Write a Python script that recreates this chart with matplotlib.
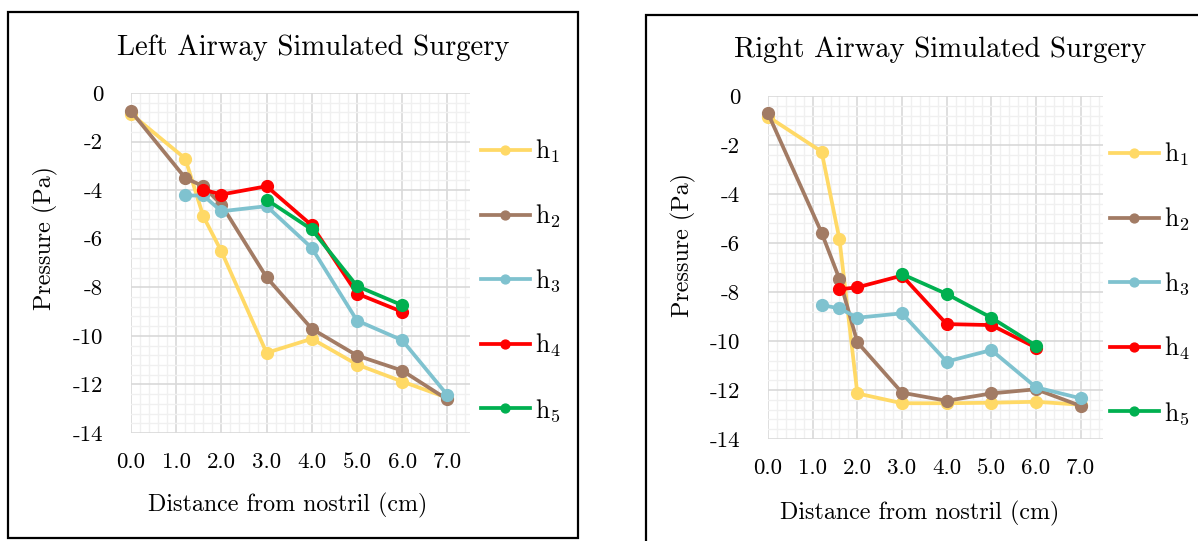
import numpy as np
import matplotlib
matplotlib.use("Agg")
import matplotlib.pyplot as plt
from matplotlib.patches import Rectangle

plt.rcParams['font.family'] = ['cmr10', 'DejaVu Serif']
plt.rcParams['mathtext.fontset'] = 'cm'
plt.rcParams['axes.unicode_minus'] = False

# distances (cm)
x_full = [0.0, 1.2, 1.6, 2.0, 3.0, 4.0, 5.0, 6.0, 7.0]
x_h3 = [1.2, 1.6, 2.0, 3.0, 4.0, 5.0, 6.0, 7.0]
x_h4 = [1.6, 2.0, 3.0, 4.0, 5.0, 6.0]
x_h5 = [3.0, 4.0, 5.0, 6.0]

# left airway pressures (Pa)
left_h1 = [-0.86, -2.7, -5.08, -6.52, -10.7, -10.12, -11.18, -11.88, -12.55]
left_h2 = [-0.75, -3.5, -3.84, -4.6, -7.59, -9.71, -10.81, -11.43, -12.62]
left_h3 = [-4.22, -4.22, -4.87, -4.66, -6.38, -9.37, -10.18, -12.44]
left_h4 = [-3.98, -4.18, -3.84, -5.45, -8.26, -9.01]
left_h5 = [-4.39, -5.62, -7.95, -8.74]

# right airway pressures (Pa)
right_h1 = [-0.84, -2.27, -5.85, -12.14, -12.54, -12.54, -12.52, -12.48, -12.6]
right_h2 = [-0.71, -5.58, -7.47, -10.05, -12.11, -12.44, -12.14, -11.97, -12.65]
right_h3 = [-8.53, -8.67, -9.05, -8.87, -10.84, -10.37, -11.89, -12.34]
right_h4 = [-7.89, -7.81, -7.33, -9.31, -9.35, -10.27]
right_h5 = [-7.27, -8.08, -9.05, -10.19]

labels = ['h$_1$', 'h$_2$', 'h$_3$', 'h$_4$', 'h$_5$']
colors = ['#FFD966', '#A27B64', '#7FC2CF', '#FF0000', '#00B050']
xticks = [0, 1, 2, 3, 4, 5, 6, 7]
xtick_labels = ['0.0', '1.0', '2.0', '3.0', '4.0', '5.0', '6.0', '7.0']
yticks = [0, -2, -4, -6, -8, -10, -12, -14]
ytick_labels = ['0', '-2', '-4', '-6', '-8', '-10', '-12', '-14']

W, H = 1198, 541
fig = plt.figure(figsize=(W / 100, H / 100), dpi=100)


def px(x0, y0, x1, y1):
    # pixel box -> figure fraction rect
    return [x0 / W, 1 - y1 / H, (x1 - x0) / W, (y1 - y0) / H]


def panel(rect, series, title, title_xy, ylab_xy, xlab_xy, leg_xy):
    ax = fig.add_axes(rect)
    xs = [x_full, x_full, x_h3, x_h4, x_h5]
    for x, y, c, lab in zip(xs, series, colors, labels):
        ax.plot(x, y, color=c, lw=2.7, marker='o', ms=8.5, label=lab,
                solid_joinstyle='round', clip_on=False)
    ax.set_xlim(0, 7.5)
    ax.set_ylim(-14, 0)
    ax.set_xticks(xticks)
    ax.set_xticklabels(xtick_labels, fontsize=16.5)
    ax.set_yticks(yticks)
    ax.set_yticklabels(ytick_labels, fontsize=16.5)
    ax.set_xticks(np.arange(0, 7.55, 0.2), minor=True)
    ax.set_yticks(np.arange(-14, 0.01, 0.4), minor=True)
    ax.tick_params(which='both', length=0)
    ax.tick_params(axis='x', pad=14)
    ax.tick_params(axis='y', pad=20)
    ax.grid(which='major', color='#d9d9d9', lw=1.2)
    ax.grid(which='minor', color='#f0f0f0', lw=1.0)
    ax.set_axisbelow(True)
    for s in ax.spines.values():
        s.set_visible(False)
    fig.text(title_xy[0] / W, 1 - title_xy[1] / H, title, fontsize=20.7,
             ha='center', va='center')
    fig.text(ylab_xy[0] / W, 1 - ylab_xy[1] / H, 'Pressure (Pa)', fontsize=17.3,
             rotation=90, ha='center', va='center')
    fig.text(xlab_xy[0] / W, 1 - xlab_xy[1] / H, 'Distance from nostril (cm)',
             fontsize=17.3, ha='center', va='center')
    fig.legend(*ax.get_legend_handles_labels(), loc='upper left',
               bbox_to_anchor=(leg_xy[0] / W, 1 - leg_xy[1] / H),
               frameon=False, fontsize=18.5, labelspacing=1.46,
               handlelength=1.9, handletextpad=0.2, borderpad=0,
               borderaxespad=0, markerscale=0.75)
    return ax


panel(px(131, 93, 470, 433), [left_h1, left_h2, left_h3, left_h4, left_h5],
      'Left Airway Simulated Surgery', (313, 48), (45, 238), (288, 505),
      (481, 138))
panel(px(768, 96, 1103, 439), [right_h1, right_h2, right_h3, right_h4, right_h5],
      'Right Airway Simulated Surgery', (940, 50), (683, 245), (920, 513),
      (1110, 141))

# outer chart frames
fig.patches.append(Rectangle((8 / W, 1 - 538 / H), 570 / W, 526 / H,
                             transform=fig.transFigure, fill=False,
                             ec='black', lw=1.6))
fig.patches.append(Rectangle((646 / W, -0.05), 600 / W, 1.05 - 15 / H,
                             transform=fig.transFigure, fill=False,
                             ec='black', lw=1.6))

fig.savefig('out.png', dpi=100)
